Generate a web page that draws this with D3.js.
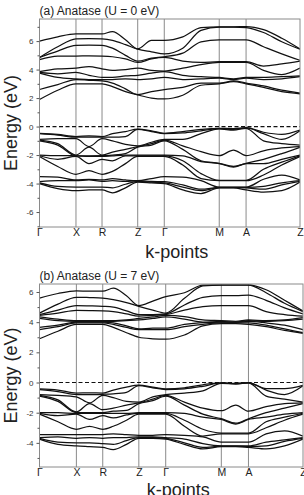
<!DOCTYPE html>
<html>
<head>
<meta charset="utf-8">
<script src="https://cdn.jsdelivr.net/npm/d3@7"></script>
<style>
  body { margin: 0; background: #fff; }
  svg { display: block; }
  text { font-family: "Liberation Sans", Arial, sans-serif; }
</style>
</head>
<body>
<svg id="viz"></svg>
<script>
// k-path: high symmetry points and sample positions along the path (0..1)
const kLabels = ['Γ', 'X', 'R', 'Z', 'Γ', 'M', 'A', 'Z'];
const kTicks = [0, 0.14, 0.24, 0.377, 0.479, 0.69, 0.793, 1];
const kSamples = [0, 0.07, 0.14, 0.19, 0.24, 0.28, 0.33, 0.377, 0.43, 0.479,
                  0.55, 0.62, 0.69, 0.745, 0.793, 0.86, 0.93, 1];

// energies (eV), one row per k sample, sorted low -> high
const condU0 = [
  [1.9, 2.6, 3.75, 3.8, 3.85, 4.7, 4.85, 4.85, 6.0],
  [2.55, 2.95, 3.45, 3.7, 4.05, 4.95, 5.3, 5.6, 6.3],
  [3.0, 3.3, 3.35, 3.8, 4.1, 4.95, 5.7, 6.15, 6.5],
  [3.0, 3.25, 3.3, 3.6, 4.2, 4.97, 5.72, 6.17, 6.5],
  [3.0, 3.2, 3.3, 3.45, 4.05, 4.95, 5.7, 6.15, 6.5],
  [2.8, 3.05, 3.3, 3.45, 3.95, 4.9, 5.5, 6.05, 6.67],
  [2.45, 2.65, 3.35, 3.55, 4.0, 4.75, 5.0, 5.75, 6.1],
  [2.22, 2.25, 3.3, 3.6, 4.1, 4.5, 4.6, 5.43, 5.45],
  [2.0, 2.45, 3.35, 3.75, 3.95, 4.75, 4.8, 5.25, 6.05],
  [1.94, 2.6, 3.45, 3.85, 3.9, 4.85, 4.9, 5.1, 6.05],
  [2.2, 2.75, 3.3, 3.6, 4.1, 4.6, 5.15, 5.5, 6.3],
  [2.9, 3.05, 3.35, 3.5, 4.35, 4.5, 5.95, 6.75, 6.95],
  [3.0, 3.05, 3.4, 3.45, 4.5, 4.55, 6.09, 6.98, 7.0],
  [3.15, 3.2, 3.3, 3.35, 4.5, 4.55, 6.09, 6.98, 7.0],
  [3.0, 3.05, 3.4, 3.45, 4.5, 4.55, 6.09, 6.95, 7.02],
  [2.75, 2.85, 3.3, 3.45, 3.95, 4.25, 5.6, 6.6, 6.8],
  [2.45, 2.55, 3.35, 3.5, 3.65, 4.4, 5.1, 5.95, 6.2],
  [2.3, 2.35, 3.5, 3.55, 4.1, 4.6, 4.65, 5.43, 5.45]
];
const valU0 = [
  [-4.0, -3.95, -3.87, -3.52, -2.1, -2.05, -2.0, -1.0, -0.95, -0.9, -0.5, -0.47],
  [-4.35, -4.2, -3.8, -3.55, -2.8, -2.3, -2.04, -1.3, -1.2, -0.85, -0.6, -0.55],
  [-4.5, -4.25, -3.8, -3.75, -3.35, -2.1, -2.05, -2.05, -2.0, -0.85, -0.75, -0.7],
  [-4.45, -4.25, -3.75, -3.7, -3.1, -2.6, -2.1, -2.05, -1.45, -1.4, -0.75, -0.65],
  [-4.45, -4.25, -3.85, -3.75, -3.35, -2.3, -2.1, -2.04, -2.0, -0.85, -0.75, -0.7],
  [-4.65, -4.3, -3.8, -3.65, -3.15, -2.4, -2.05, -2.0, -1.8, -1.0, -0.75, -0.5],
  [-4.3, -4.05, -3.85, -3.75, -2.6, -2.05, -2.0, -1.9, -1.6, -1.25, -0.7, -0.35],
  [-3.9, -3.85, -3.8, -3.8, -2.1, -2.05, -2.0, -1.45, -1.4, -1.35, -0.2, -0.18],
  [-3.95, -3.9, -3.85, -3.65, -2.1, -2.05, -2.0, -1.3, -1.2, -1.1, -0.35, -0.3],
  [-4.0, -3.95, -3.87, -3.52, -2.1, -2.05, -2.0, -1.0, -0.95, -0.9, -0.5, -0.47],
  [-4.45, -4.25, -4.1, -3.55, -2.7, -2.4, -2.05, -1.6, -1.35, -0.9, -0.45, -0.35],
  [-4.7, -4.5, -4.4, -3.8, -3.65, -3.3, -2.46, -2.4, -1.76, -0.5, -0.3, -0.2],
  [-4.3, -4.28, -4.27, -4.25, -3.8, -3.78, -2.6, -2.58, -2.04, -0.17, -0.15, -0.12],
  [-4.3, -4.28, -4.27, -4.25, -3.8, -3.78, -2.85, -2.8, -1.65, -0.25, -0.2, -0.15],
  [-4.45, -4.3, -4.27, -4.25, -3.8, -3.78, -2.6, -2.58, -2.04, -0.12, -0.1, -0.08],
  [-4.6, -4.4, -4.2, -3.7, -3.4, -3.0, -2.6, -2.3, -1.7, -1.0, -0.5, -0.4],
  [-4.5, -4.1, -3.95, -3.4, -2.7, -2.5, -2.3, -1.9, -1.5, -1.2, -0.9, -0.55],
  [-3.9, -3.85, -3.8, -3.75, -2.1, -2.05, -2.0, -1.45, -1.4, -1.3, -0.3, -0.25]
];
const condU7 = [
  [2.9, 3.5, 3.65, 4.25, 4.35, 4.45, 4.5, 4.6, 5.6],
  [3.4, 3.7, 3.8, 4.1, 4.2, 4.6, 4.8, 5.2, 5.9],
  [3.85, 3.95, 4.0, 4.05, 4.1, 4.78, 5.1, 5.65, 6.08],
  [3.85, 3.95, 4.0, 4.05, 4.1, 4.77, 5.08, 5.63, 6.05],
  [3.85, 3.95, 4.0, 4.05, 4.1, 4.75, 5.05, 5.6, 6.05],
  [3.65, 3.85, 3.95, 4.05, 4.1, 4.7, 5.0, 5.5, 6.25],
  [3.3, 3.65, 3.75, 4.1, 4.15, 4.55, 4.75, 5.3, 5.75],
  [3.0, 3.5, 3.55, 4.15, 4.25, 4.4, 4.5, 5.05, 5.1],
  [2.9, 3.5, 3.6, 4.25, 4.35, 4.45, 4.5, 4.8, 5.4],
  [2.87, 3.5, 3.6, 4.35, 4.45, 4.5, 4.55, 4.6, 5.69],
  [3.15, 3.7, 3.85, 4.2, 4.37, 4.8, 5.14, 5.58, 5.95],
  [3.75, 3.85, 3.97, 4.0, 4.15, 5.03, 5.65, 6.4, 6.45],
  [3.9, 3.95, 4.0, 4.05, 4.1, 5.1, 5.76, 6.46, 6.48],
  [3.9, 3.95, 4.0, 4.0, 4.05, 5.1, 5.76, 6.46, 6.48],
  [3.85, 3.95, 4.05, 4.1, 4.15, 5.1, 5.8, 6.46, 6.48],
  [3.7, 3.8, 3.95, 4.05, 4.1, 4.7, 5.45, 5.95, 6.15],
  [3.45, 3.55, 3.8, 4.1, 4.15, 4.5, 4.95, 5.25, 5.45],
  [3.25, 3.3, 3.5, 4.2, 4.3, 4.4, 4.55, 4.7, 4.75]
];
const valU7 = [
  [-3.75, -3.7, -3.65, -3.45, -2.1, -2.05, -2.0, -0.9, -0.85, -0.8, -0.47, -0.42],
  [-4.1, -3.95, -3.6, -3.45, -2.6, -2.2, -2.0, -1.25, -1.15, -0.85, -0.6, -0.5],
  [-4.2, -4.0, -3.7, -3.45, -3.1, -2.1, -2.05, -2.0, -1.95, -0.95, -0.8, -0.7],
  [-4.25, -4.0, -3.65, -3.45, -2.9, -2.45, -2.05, -2.0, -1.4, -1.35, -0.8, -0.68],
  [-4.3, -4.05, -3.7, -3.45, -3.1, -2.2, -2.05, -2.0, -1.8, -0.85, -0.78, -0.7],
  [-4.45, -4.1, -3.65, -3.4, -2.9, -2.35, -2.05, -1.9, -1.7, -1.0, -0.75, -0.5],
  [-4.1, -3.85, -3.65, -3.45, -2.5, -2.15, -2.05, -1.85, -1.5, -1.25, -0.65, -0.3],
  [-3.7, -3.65, -3.6, -3.5, -2.1, -2.05, -2.0, -1.4, -1.35, -1.3, -0.2, -0.18],
  [-3.7, -3.65, -3.6, -3.5, -2.1, -2.05, -2.0, -1.2, -1.1, -0.95, -0.35, -0.3],
  [-3.75, -3.7, -3.65, -3.45, -2.1, -2.05, -2.0, -0.9, -0.85, -0.8, -0.47, -0.42],
  [-4.1, -4.0, -3.75, -3.5, -2.9, -2.5, -2.05, -1.5, -1.3, -0.7, -0.42, -0.35],
  [-4.4, -4.3, -4.05, -3.6, -3.55, -3.1, -2.3, -2.1, -1.7, -0.55, -0.25, -0.15],
  [-4.25, -4.22, -4.2, -3.95, -3.4, -3.35, -2.45, -2.4, -1.87, -0.05, -0.03, -0.02],
  [-4.25, -4.22, -4.2, -3.95, -3.4, -3.35, -2.75, -2.7, -1.5, -0.1, -0.08, -0.06],
  [-4.3, -4.25, -4.2, -3.95, -3.4, -3.35, -2.45, -2.4, -1.9, -0.03, -0.02, 0.0],
  [-4.4, -4.2, -3.95, -3.4, -3.0, -2.6, -2.3, -2.0, -1.6, -0.9, -0.5, -0.4],
  [-4.2, -3.9, -3.8, -3.2, -2.5, -2.3, -2.1, -1.7, -1.4, -1.1, -0.8, -0.4],
  [-3.75, -3.7, -3.65, -3.55, -2.1, -2.05, -2.0, -1.4, -1.35, -1.3, -0.22, -0.18]
];
const yTicksU0 = [-6, -4, -2, 0, 2, 4, 6];
const yTicksU7 = [-4, -2, 0, 2, 4, 6];
const titles = ['(a) Anatase (U = 0 eV)', '(b) Anatase (U = 7 eV)'];

/**Initial setting */
var width = 304;
var height = 495;

var svg = d3.select('#viz')
            .attr('width', width)
            .attr('height', height);

var panels = [
  { title: titles[0], cond: condU0, val: valU0, ticks: yTicksU0,
    domain: [-7.05, 7.55], left: 39.5, right: 300, top: 19, bottom: 227,
    titleY: 15, kLabelY: 258 },
  { title: titles[1], cond: condU7, val: valU7, ticks: yTicksU7,
    domain: [-5.6, 6.53], left: 39.5, right: 303, top: 284, bottom: 467,
    titleY: 280, kLabelY: 496 }
];

panels.forEach(function(p, pi){
    var xScale = d3.scaleLinear().domain([0, 1]).range([p.left, p.right]);
    var yScale = d3.scaleLinear().domain(p.domain).range([p.bottom, p.top]);

    var g = svg.append('g');

    g.append('clipPath')
     .attr('id', 'clip' + pi)
     .append('rect')
     .attr('x', p.left).attr('y', p.top)
     .attr('width', p.right - p.left).attr('height', p.bottom - p.top);

    // high symmetry lines
    g.selectAll('.kline')
     .data(kTicks.slice(1, -1))
     .enter().append('line')
     .attr('x1', d => xScale(d)).attr('x2', d => xScale(d))
     .attr('y1', p.top).attr('y2', p.bottom)
     .attr('stroke', '#8a8a8a')
     .attr('stroke-width', 1);

    // bands
    var line = d3.line()
                 .x((d, i) => xScale(kSamples[i]))
                 .y(d => yScale(d))
                 .curve(d3.curveMonotoneX);

    var bands = d3.transpose(p.cond).concat(d3.transpose(p.val));
    g.append('g')
     .attr('clip-path', `url(#clip${pi})`)
     .selectAll('path')
     .data(bands)
     .enter().append('path')
     .attr('d', line)
     .attr('fill', 'none')
     .attr('stroke', '#111')
     .attr('stroke-width', 1.25);

    // fermi level
    g.append('line')
     .attr('x1', p.left).attr('x2', p.right)
     .attr('y1', yScale(0)).attr('y2', yScale(0))
     .attr('stroke', '#111')
     .attr('stroke-width', 1.2)
     .attr('stroke-dasharray', '4,2.5');

    // frame
    g.append('rect')
     .attr('x', p.left).attr('y', p.top)
     .attr('width', p.right - p.left).attr('height', p.bottom - p.top)
     .attr('fill', 'none')
     .attr('stroke', '#8a8a8a')
     .attr('stroke-width', 1);

    // y axis, major + minor ticks
    var minor = d3.range(Math.ceil(p.domain[0]), Math.floor(p.domain[1]) + 1)
                  .filter(v => p.ticks.indexOf(v) < 0);
    var yMinor = g.append('g')
                  .attr('transform', `translate(${p.left},0)`)
                  .call(d3.axisLeft(yScale).tickValues(minor).tickSize(2).tickFormat(''));
    var yAxis = g.append('g')
                 .attr('transform', `translate(${p.left},0)`)
                 .call(d3.axisLeft(yScale).tickValues(p.ticks).tickSize(3).tickPadding(3)
                       .tickFormat(d => String(d)));
    [yMinor, yAxis].forEach(function(a){
        a.select('.domain').remove();
        a.selectAll('line').attr('stroke', '#555');
    });
    yAxis.selectAll('text')
         .attr('font-size', 8)
         .attr('fill', '#333')
         .style('font-family', '"Liberation Sans", Arial, sans-serif');

    // k point labels
    var xAxis = g.append('g')
                 .attr('transform', `translate(0,${p.bottom})`)
                 .call(d3.axisBottom(xScale).tickValues(kTicks).tickSize(0).tickPadding(2)
                       .tickFormat((d, i) => kLabels[i]));
    xAxis.select('.domain').remove();
    xAxis.selectAll('text')
         .attr('font-size', 10.5)
         .attr('fill', '#222')
         .style('font-family', '"Liberation Sans", Arial, sans-serif');

    // titles
    g.append('text')
     .attr('x', p.left)
     .attr('y', p.titleY)
     .attr('font-size', 12)
     .attr('fill', '#222')
     .text(p.title);

    g.append('text')
     .attr('transform', `translate(17,${(p.top + p.bottom) / 2}) rotate(-90)`)
     .attr('text-anchor', 'middle')
     .attr('font-size', 18)
     .attr('fill', '#222')
     .text('Energy (eV)');

    g.append('text')
     .attr('x', (p.left + p.right) / 2 + 7)
     .attr('y', p.kLabelY)
     .attr('text-anchor', 'middle')
     .attr('font-size', 18)
     .attr('fill', '#222')
     .text('k-points');
});
</script>
</body>
</html>
